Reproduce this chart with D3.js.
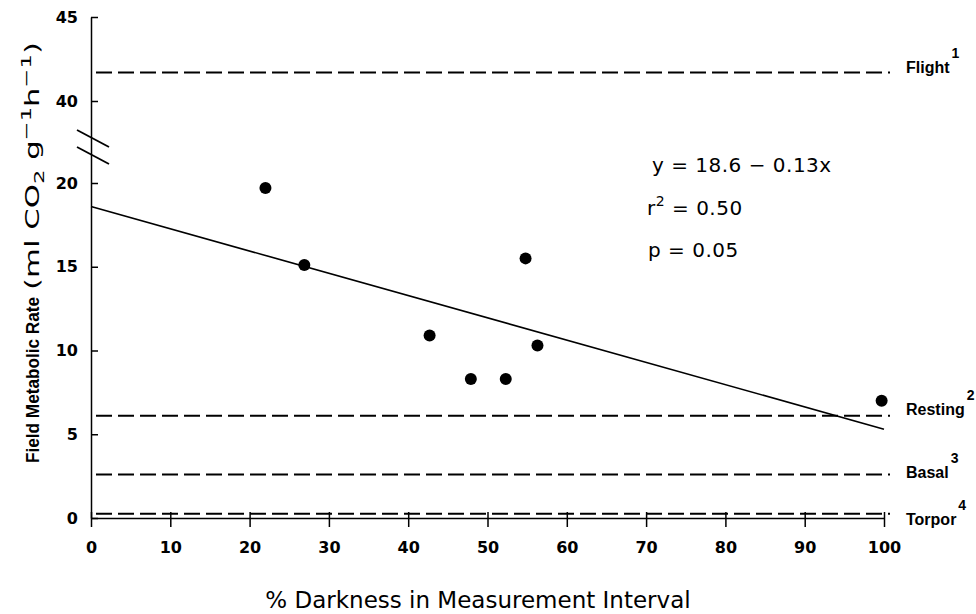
<!DOCTYPE html>
<html>
<head>
<meta charset="utf-8">
<script src="https://cdn.jsdelivr.net/npm/d3@7"></script>
<style>
  body { margin: 0; background: #fff; }
  svg { display: block; }
  .tick text { font-family: "DejaVu Sans", sans-serif; font-weight: bold; font-size: 16px; fill: #000; }
  .eq { font-family: "DejaVu Sans", sans-serif; font-size: 20px; letter-spacing: 0.5px; }
  .ref { font-family: "Liberation Sans", Arial, sans-serif; font-weight: bold; font-size: 16px; }
  .ytitle { font-family: "DejaVu Sans", sans-serif; font-size: 19px; }
  .ytitle-bold { font-family: "Liberation Sans", Arial, sans-serif; font-weight: bold; font-size: 18px; }
</style>
</head>
<body>
<svg width="976" height="614"></svg>
<script>
// points: % darkness vs field metabolic rate
var darkness = [22.0, 26.9, 42.7, 47.9, 52.3, 54.8, 56.3, 99.7];
var fmr = [19.7, 15.1, 10.9, 8.3, 8.3, 15.5, 10.3, 7.0];

// fitted line, read at both ends
var fitX = [0, 100];
var fitY = [18.6, 5.3];

// reference rates (dashed)
var refNames = ["Flight", "Resting", "Basal", "Torpor"];
var refNotes = ["1", "2", "3", "4"];
var refValues = [41.7, 6.1, 2.6, 0.25];

var xTickValues = [0, 10, 20, 30, 40, 50, 60, 70, 80, 90, 100];
var yTickValues = [0, 5, 10, 15, 20, 40, 45];

var svg = d3.select("svg");

var x = d3.scaleLinear().domain([0, 100]).range([91, 884]);
// broken axis: 20 -> 40 squeezed into the gap
var y = d3.scaleLinear().domain([0, 20, 40, 45]).range([518, 183, 101, 17]);

// axes
var xAxis = svg.append("g")
  .attr("transform", "translate(0," + y(0) + ")")
  .call(d3.axisBottom(x).tickValues(xTickValues).tickSize(9).tickSizeOuter(0).tickPadding(15));
xAxis.selectAll(".tick line").attr("y1", -6);

var yAxis = svg.append("g")
  .attr("transform", "translate(" + x(0) + ",0)")
  .call(d3.axisLeft(y).tickValues(yTickValues).tickSize(7).tickSizeOuter(0).tickPadding(6));
yAxis.selectAll(".tick line").attr("x2", 7);

svg.selectAll(".domain, .tick line").attr("stroke", "#000").attr("stroke-width", 1.5);

// break marks
var breakAt = 28.8;
[-8.5, 8.5].forEach(function(off) {
  svg.append("line")
    .attr("x1", x(0) - 14).attr("y1", y(breakAt) + off - 8.5)
    .attr("x2", x(0) + 18).attr("y2", y(breakAt) + off + 8.5)
    .attr("stroke", "#000").attr("stroke-width", 1.8);
});

// reference lines
var labelNudge = [1, -1, 4, 11];
refValues.forEach(function(v, i) {
  svg.append("line")
    .attr("x1", x(0) + 5).attr("x2", x(100) + 6)
    .attr("y1", y(v)).attr("y2", y(v))
    .attr("stroke", "#000").attr("stroke-width", 2)
    .attr("stroke-dasharray", "16,6");
  var t = svg.append("text").attr("class", "ref")
    .attr("x", 906).attr("y", y(v) + labelNudge[i]);
  t.append("tspan").text(refNames[i]);
  t.append("tspan").attr("dx", 2).attr("dy", -15).style("font-size", "14px").text(refNotes[i]);
});

// fitted line
var line = d3.line()
  .x(function(d) { return x(d[0]); })
  .y(function(d) { return y(d[1]); });
svg.append("path")
  .datum(d3.zip(fitX, fitY))
  .attr("d", line)
  .attr("fill", "none").attr("stroke", "#000").attr("stroke-width", 1.6);

// points
svg.append("g").selectAll("circle")
  .data(d3.zip(darkness, fmr))
  .enter().append("circle")
  .attr("cx", function(d) { return x(d[0]); })
  .attr("cy", function(d) { return y(d[1]); })
  .attr("r", 6)
  .attr("fill", "#000");

// equation
svg.append("text").attr("class", "eq").attr("x", 652).attr("y", 172).text("y = 18.6 \u2212 0.13x");
var r2 = svg.append("text").attr("class", "eq").attr("x", 647).attr("y", 215);
r2.append("tspan").text("r");
r2.append("tspan").attr("dy", -9).style("font-size", "14px").text("2");
r2.append("tspan").attr("dy", 9).text(" = 0.50");
svg.append("text").attr("class", "eq").attr("x", 648).attr("y", 257).text("p = 0.05");

// x title
svg.append("text")
  .attr("x", 478).attr("y", 608)
  .attr("text-anchor", "middle")
  .style("font-family", "DejaVu Sans, sans-serif").style("font-size", "23px")
  .text("% Darkness in Measurement Interval");

// y title, bold part then units
svg.append("text").attr("class", "ytitle-bold")
  .attr("transform", "translate(39,463) rotate(-90)")
  .attr("textLength", 166).attr("lengthAdjust", "spacingAndGlyphs")
  .text("Field Metabolic Rate");

var yt = svg.append("text").attr("class", "ytitle")
  .attr("transform", "translate(39,290) rotate(-90)")
  .attr("textLength", 248).attr("lengthAdjust", "spacingAndGlyphs");
yt.append("tspan").text("(ml CO");
yt.append("tspan").attr("dy", 5).style("font-size", "14px").text("2");
yt.append("tspan").attr("dy", -5).text(" g");
yt.append("tspan").attr("dy", -8).style("font-size", "14px").text("\u22121");
yt.append("tspan").attr("dy", 8).text("h");
yt.append("tspan").attr("dy", -8).style("font-size", "14px").text("\u22121");
yt.append("tspan").attr("dy", 8).text(")");
</script>
</body>
</html>
